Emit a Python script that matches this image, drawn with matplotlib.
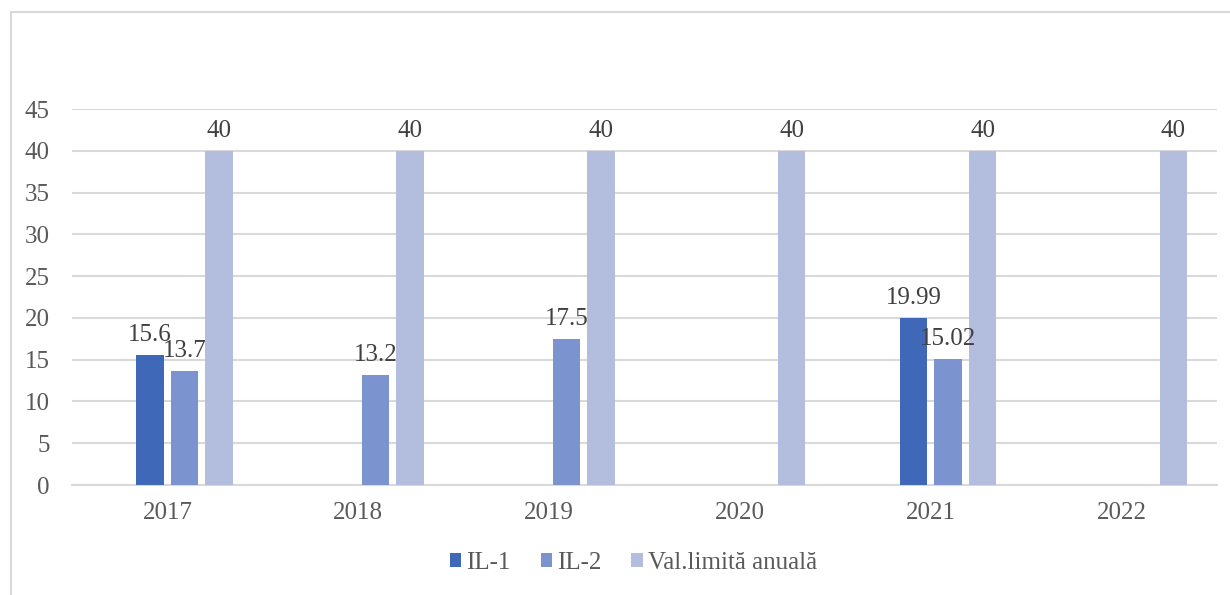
#!/usr/bin/env python
import matplotlib
matplotlib.use('Agg')
import matplotlib.pyplot as plt
import numpy as np
from matplotlib.patches import Rectangle

years = ['2017', '2018', '2019', '2020', '2021', '2022']
series_names = ['IL-1', 'IL-2', 'Val.limită anuală']
il1 = [15.6, None, None, None, 19.99, None]
il2 = [13.7, 13.2, 17.5, None, 15.02, None]
limit = [40, 40, 40, 40, 40, 40]
labels_il1 = ['15.6', '', '', '', '19.99', '']
labels_il2 = ['13.7', '13.2', '17.5', '', '15.02', '']
labels_limit = ['40', '40', '40', '40', '40', '40']

colors = ['#3F69B8', '#7B93CF', '#B3BEDF']
text_color = '#595959'
grid_color = '#D9D9D9'

plt.rcParams['font.family'] = ['Liberation Serif', 'DejaVu Serif']

fig = plt.figure(figsize=(12.3, 5.95), dpi=100)
ax = fig.add_axes([72 / 1230, 110 / 595, 1145 / 1230, 376 / 595])

x = np.arange(len(years))
step = 0.181
width = 0.144
offsets = [-0.5 * step, 0.5 * step, 1.5 * step]

all_vals = [il1, il2, limit]
all_labels = [labels_il1, labels_il2, labels_limit]
for vals, labs, off, col, name in zip(all_vals, all_labels, offsets, colors, series_names):
    v = np.array([np.nan if a is None else a for a in vals], dtype=float)
    ax.bar(x + off, v, width=width, color=col, label=name, zorder=3)
    for xi, vi, lab in zip(x, v, labs):
        if lab and not np.isnan(vi):
            ax.annotate(lab, (xi + off, vi), xytext=(0, 6.5), textcoords='offset points',
                        ha='center', va='bottom', fontsize=18, color='#404040', zorder=4)

ax.set_xlim(-0.5, len(years) - 0.5)
ax.set_ylim(0, 45)
ax.set_yticks(np.arange(0, 46, 5))
ax.set_xticks(x)
ax.set_xticklabels(years)
ax.yaxis.grid(True, color=grid_color, linewidth=1.5, zorder=0)
ax.set_axisbelow(True)
for s in ['top', 'right', 'left']:
    ax.spines[s].set_visible(False)
ax.spines['bottom'].set_color(grid_color)
ax.spines['bottom'].set_linewidth(1.5)
ax.tick_params(axis='both', length=0, labelsize=18, colors=text_color)
ax.tick_params(axis='x', pad=12)
ax.tick_params(axis='y', pad=16)

fig.legend(loc='center', bbox_to_anchor=(0.515, 0.054), ncol=3, frameon=False,
           fontsize=18, labelcolor=text_color, handlelength=0.45, handleheight=0.45,
           handletextpad=0.2, columnspacing=1.2)

fig.patches.append(Rectangle((11 / 1230, -0.1), 1.2, 0.1 + (595 - 12) / 595,
                             transform=fig.transFigure, fill=False,
                             edgecolor=grid_color, linewidth=1.5))

fig.savefig('out.png', dpi=100)
